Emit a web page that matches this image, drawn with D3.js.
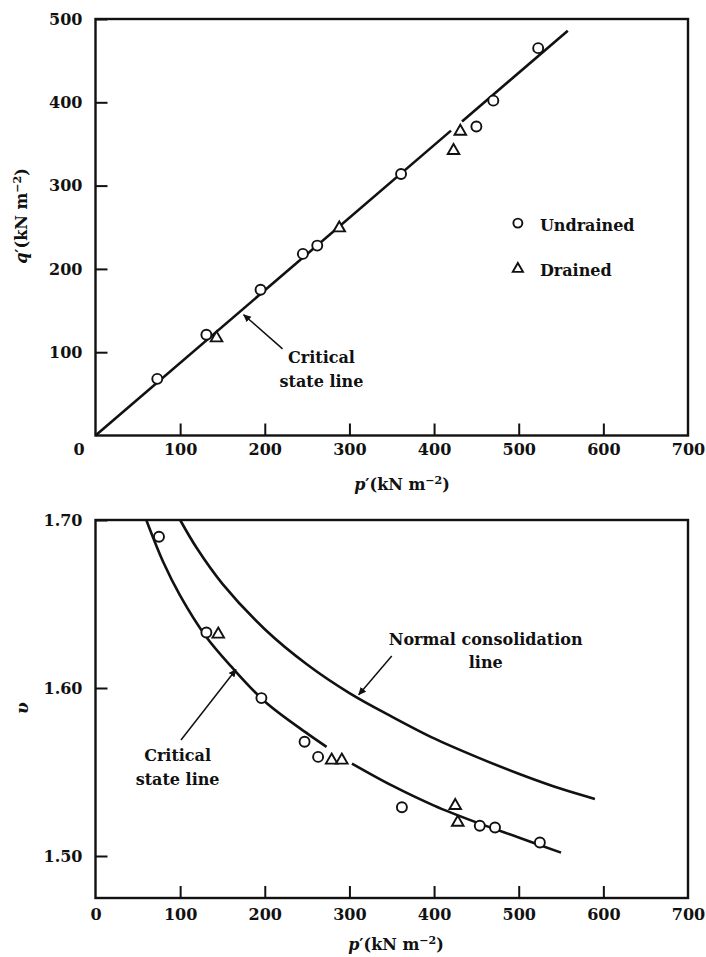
<!DOCTYPE html>
<meta charset="utf-8"/>
<style>
  body { margin: 0; background: #fff; }
  text { font-family: "DejaVu Serif", serif; font-weight: bold; fill: #111; }
  .axis text { font-size: 16px; }
  .axis path { display: none; }
  .axis line { stroke: #111; stroke-width: 2; }
  .frame { fill: none; stroke: #111; stroke-width: 2.4; }
  .curve { fill: none; stroke: #111; stroke-width: 2.6; }
  .arrow { stroke: #111; stroke-width: 1.5; }
  .note { font-size: 16px; }
  .mk { fill: #fff; stroke: #111; stroke-width: 1.9; }
</style>
<body>
<svg width="706" height="957"></svg>
</body>
<script src="https://d3js.org/d3.v7.min.js"></script>
<script>

  // ---- data ----
  var pTicks = [0, 100, 200, 300, 400, 500, 600, 700]
  var qTicks = [100, 200, 300, 400, 500]
  var vTicks = [1.50, 1.60, 1.70]

  // top panel: q' against p'
  var undrainedP = [73, 131, 195, 245, 262, 361, 450, 470, 523]
  var undrainedQ = [68, 121, 175, 218, 228, 314, 371, 402, 465]
  var drainedP = [143, 288, 423, 431]
  var drainedQ = [117, 249, 342, 365]
  // critical state line (drawn in two pieces, there is a break near 425)
  var cslTopP = [[0, 420], [433, 558]]
  var cslTopQ = [[0, 366], [377, 486]]

  // bottom panel: v against p'
  var undrainedP2 = [75, 131, 196, 247, 263, 362, 454, 472, 525]
  var undrainedV = [1.690, 1.633, 1.594, 1.568, 1.559, 1.529, 1.518, 1.517, 1.508]
  var drainedP2 = [145, 279, 291, 425, 428]
  var drainedV = [1.632, 1.557, 1.557, 1.530, 1.520]
  var cslP = [[60, 80, 100, 130, 160, 200, 250, 273], [303, 350, 400, 450, 500, 550]]
  var cslV = [[1.700, 1.675, 1.655, 1.631, 1.613, 1.592, 1.573, 1.565], [1.555, 1.542, 1.530, 1.520, 1.511, 1.502]]
  var nclP = [100, 120, 150, 200, 250, 300, 350, 400, 450, 500, 550, 590]
  var nclV = [1.700, 1.683, 1.662, 1.635, 1.614, 1.597, 1.583, 1.570, 1.559, 1.549, 1.540, 1.534]

  var svg = d3.select("svg")

  var x = d3.scaleLinear().domain([0, 700]).range([95.5, 688])
  var yTop = d3.scaleLinear().domain([0, 500]).range([435.5, 19])
  var yBot = d3.scaleLinear().domain([1.475, 1.70]).range([898, 520])

  var defs = svg.append("defs")
  defs.append("marker")
    .attr("id", "head")
    .attr("viewBox", "0 -5 10 10")
    .attr("refX", 9)
    .attr("refY", 0)
    .attr("markerWidth", 8)
    .attr("markerHeight", 8)
    .attr("markerUnits", "userSpaceOnUse")
    .attr("orient", "auto")
    .append("path")
    .attr("d", "M0,-4.5L10,0L0,4.5Z")
    .attr("fill", "#111")

  var tri = d3.symbol().type(d3.symbolTriangle).size(58)

  function zip(a, b) { return a.map(function (d, i) { return [d, b[i]] }) }

  function panel(y, yTicks, yFmt, xPad) {
    var g = svg.append("g")
    var xa = g.append("g")
      .attr("class", "axis")
      .attr("transform", "translate(0," + y.range()[0] + ")")
      .call(d3.axisBottom(x).tickValues(pTicks).tickSizeInner(-12).tickSizeOuter(0).tickPadding(xPad))
    xa.selectAll(".tick line")
      .filter(function (d) { return d === 0 || d === 700 })
      .remove()
    g.append("g")
      .attr("class", "axis")
      .attr("transform", "translate(" + x.range()[0] + ",0)")
      .call(d3.axisLeft(y).tickValues(yTicks).tickFormat(yFmt).tickSizeInner(-12).tickSizeOuter(0).tickPadding(13))
    g.append("rect")
      .attr("class", "frame")
      .attr("x", x.range()[0])
      .attr("y", y.range()[1])
      .attr("width", x.range()[1] - x.range()[0])
      .attr("height", y.range()[0] - y.range()[1])
    return g
  }

  function arrow(g, y, from, to) {
    g.append("line")
      .attr("class", "arrow")
      .attr("x1", x(from[0])).attr("y1", y(from[1]))
      .attr("x2", x(to[0])).attr("y2", y(to[1]))
      .attr("marker-end", "url(#head)")
  }

  function note(g, y, p, v, lines, dv) {
    g.append("text")
      .attr("class", "note")
      .attr("text-anchor", "middle")
      .selectAll("tspan")
      .data(lines)
      .join("tspan")
      .attr("x", x(p))
      .attr("y", function (d, i) { return y(v - i * dv) })
      .text(function (d) { return d })
  }

  function unitLabel(t, sym) {
    t.append("tspan").style("font-style", "italic").text(sym)
    t.append("tspan").text("\u2032(kN m")
    t.append("tspan").attr("dy", -6).style("font-size", "11px").text("\u22122")
    t.append("tspan").attr("dy", 6).text(")")
  }

  // ---------- top panel ----------
  var topG = panel(yTop, qTicks, d3.format("d"), 8)
  topG.selectAll(".tick text").filter(function (d) { return d === 0 }).attr("x", -17)

  var lineTop = d3.line().x(function (d) { return x(d[0]) }).y(function (d) { return yTop(d[1]) })
  cslTopP.forEach(function (seg, i) {
    topG.append("path").attr("class", "curve").attr("d", lineTop(zip(seg, cslTopQ[i])))
  })

  topG.selectAll(".und").data(zip(undrainedP, undrainedQ)).join("circle")
    .attr("class", "mk").attr("r", 5)
    .attr("cx", function (d) { return x(d[0]) })
    .attr("cy", function (d) { return yTop(d[1]) })
  topG.selectAll(".dr").data(zip(drainedP, drainedQ)).join("path")
    .attr("class", "mk").attr("d", tri)
    .attr("transform", function (d) { return "translate(" + x(d[0]) + "," + yTop(d[1]) + ")" })

  arrow(topG, yTop, [221, 104], [175, 145])
  note(topG, yTop, 267, 87.5, ["Critical", "state line"], 28.7)

  // legend
  topG.append("circle").attr("class", "mk").attr("r", 4.5)
    .attr("cx", x(499)).attr("cy", yTop(255))
  topG.append("text").attr("class", "note").attr("x", x(525)).attr("y", yTop(246)).text("Undrained")
  topG.append("path").attr("class", "mk").attr("d", d3.symbol().type(d3.symbolTriangle).size(45))
    .attr("transform", "translate(" + x(499) + "," + yTop(200) + ")")
  topG.append("text").attr("class", "note").attr("x", x(525)).attr("y", yTop(192)).text("Drained")

  unitLabel(svg.append("text")
    .attr("x", 402).attr("y", 490)
    .attr("text-anchor", "middle")
    .style("font-size", "16px"), "p")
  unitLabel(svg.append("text")
    .attr("transform", "translate(27,216) rotate(-90)")
    .attr("text-anchor", "middle")
    .style("font-size", "16px"), "q")

  // ---------- bottom panel ----------
  var botG = panel(yBot, vTicks, d3.format(".2f"), 11)

  var lineBot = d3.line()
    .x(function (d) { return x(d[0]) })
    .y(function (d) { return yBot(d[1]) })
    .curve(d3.curveCatmullRom)

  botG.append("path").attr("class", "curve").attr("d", lineBot(zip(nclP, nclV)))
  cslP.forEach(function (seg, i) {
    botG.append("path").attr("class", "curve").attr("d", lineBot(zip(seg, cslV[i])))
  })

  botG.selectAll(".und").data(zip(undrainedP2, undrainedV)).join("circle")
    .attr("class", "mk").attr("r", 5)
    .attr("cx", function (d) { return x(d[0]) })
    .attr("cy", function (d) { return yBot(d[1]) })
  botG.selectAll(".dr").data(zip(drainedP2, drainedV)).join("path")
    .attr("class", "mk").attr("d", tri)
    .attr("transform", function (d) { return "translate(" + x(d[0]) + "," + yBot(d[1]) + ")" })

  arrow(botG, yBot, [350, 1.619], [311, 1.596])
  note(botG, yBot, 461, 1.6256, ["Normal consolidation", "line"], 0.0135)
  arrow(botG, yBot, [101, 1.569], [166, 1.611])
  note(botG, yBot, 97, 1.5566, ["Critical", "state line"], 0.0143)

  unitLabel(svg.append("text")
    .attr("x", 396).attr("y", 950)
    .attr("text-anchor", "middle")
    .style("font-size", "16px"), "p")
  svg.append("text")
    .attr("transform", "translate(28,708) rotate(-90)")
    .attr("text-anchor", "middle")
    .style("font-size", "17px")
    .style("font-style", "italic")
    .text("\u03c5")

</script>
